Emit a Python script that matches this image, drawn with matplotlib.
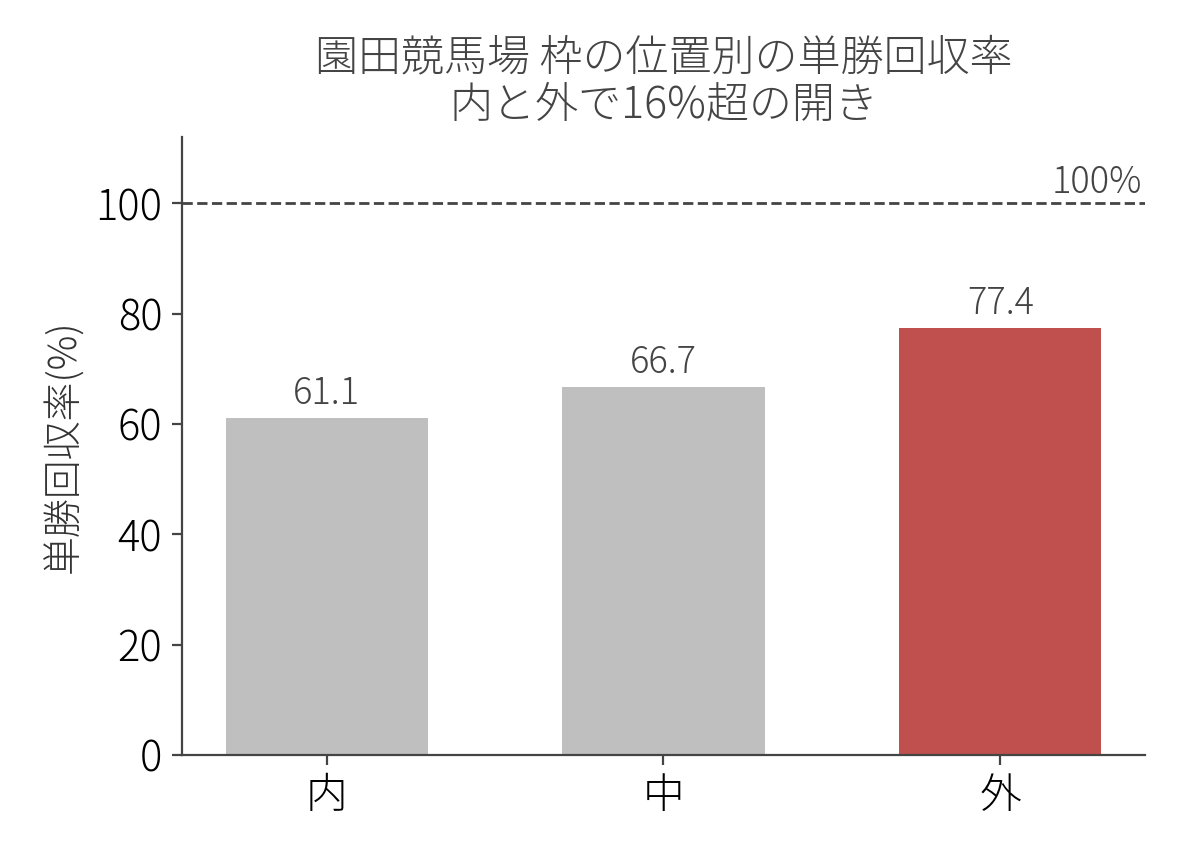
import matplotlib
matplotlib.use("Agg")
import matplotlib.pyplot as plt

plt.rcParams['font.family'] = ['Noto Sans CJK JP', 'DejaVu Sans']
plt.rcParams['font.weight'] = 'light'

# データ
positions = ["内", "中", "外"]
recovery = [61.1, 66.7, 77.4]
bar_colors = ["#bfbfbf", "#bfbfbf", "#c0504d"]
baseline = 100

fig = plt.figure(figsize=(5.94, 4.29), dpi=200)
ax = fig.add_axes([0.153, 0.120, 0.811, 0.720])

bars = ax.bar(positions, recovery, width=0.6, color=bar_colors)
for b, v in zip(bars, recovery):
    ax.text(b.get_x() + b.get_width() / 2, v + 1.0, f"{v:.1f}",
            ha="center", va="bottom", fontsize=13, color="#444444")

ax.axhline(baseline, color="#444444", linestyle="--", linewidth=1)
ax.text(2.42, baseline + 0.2, "100%", ha="right", va="bottom",
        fontsize=13, color="#444444")

ax.set_ylim(0, 112)
ax.set_ylabel("単勝回収率(%)", fontsize=14, color="#333333", fontweight="light")
ax.set_title("園田競馬場 枠の位置別の単勝回収率\n内と外で16%超の開き",
             fontsize=15.5, color="#444444", linespacing=1.07, pad=7,
             fontweight="light")

ax.spines["top"].set_visible(False)
ax.spines["right"].set_visible(False)
for s in ["left", "bottom"]:
    ax.spines[s].set_color("#444444")
ax.tick_params(axis="both", labelsize=15, color="#444444")

fig.savefig("out.png", dpi=200)
